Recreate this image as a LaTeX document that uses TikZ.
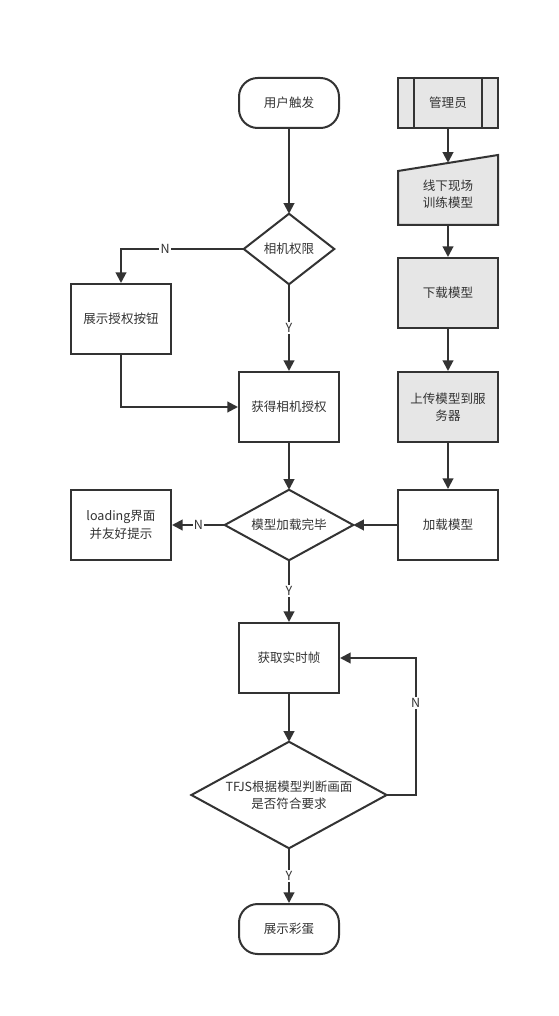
\documentclass[tikz,border=0pt]{standalone}
\usepackage{fontspec}
\setmainfont{Noto Sans CJK SC}
\usetikzlibrary{arrows.meta}
\definecolor{ln}{HTML}{333333}
\definecolor{gr}{HTML}{E6E6E6}
\tikzset{
  base/.style={inner sep=0pt, align=center, font=\fontsize{9.4}{13}\selectfont, text=ln},
  box/.style={base, draw=ln, line width=1.5pt, minimum width=75pt, minimum height=52.5pt},
  gbox/.style={box, fill=gr},
  term/.style={base, draw=ln, line width=1.5pt, minimum width=75pt, minimum height=37.5pt, rounded corners=14pt},
  hold/.style={base, minimum width=#1},
  arr/.style={draw=ln, line width=1.5pt, -{Triangle[length=8pt,width=8pt]}},
  lbl/.style={base, fill=white, inner sep=1pt},
  shp/.style={draw=ln, line width=1.5pt},
}
\begin{document}
\begin{tikzpicture}[x=0.75pt,y=-0.75pt]
\fill[white] (0,0) rectangle (559,1016);
\useasboundingbox (0,0) rectangle (559,1016);
% left column
\node[term] (start) at (289,103) {用户触发};
\node[hold=67.5pt, minimum height=52.5pt] (perm) at (289,249) {相机权限};
\draw[shp] (perm.north) -- (perm.east) -- (perm.south) -- (perm.west) -- cycle;
\node[box] (show) at (121,319) {展示授权按钮};
\node[box] (get) at (289,407) {获得相机授权};
\node[hold=96pt, minimum height=52.5pt] (loaded) at (289,525) {模型加载完毕};
\draw[shp] (loaded.north) -- (loaded.east) -- (loaded.south) -- (loaded.west) -- cycle;
\node[box] (loading) at (121,525) {loading界面\\并友好提示};
\node[box] (frame) at (289,658) {获取实时帧};
\node[hold=146pt, minimum height=79.5pt] (tfjs) at (289,795) {TFJS根据模型判断画面\\是否符合要求};
\draw[shp] (tfjs.north) -- (tfjs.east) -- (tfjs.south) -- (tfjs.west) -- cycle;
\node[term] (egg) at (289,929) {展示彩蛋};
% right column
\node[gbox, minimum height=37.5pt] (admin) at (448,103) {管理员};
\draw[ln, line width=1.2pt] ([xshift=12.75pt]admin.north west) -- ([xshift=12.75pt]admin.south west);
\draw[ln, line width=1.2pt] ([xshift=-12.75pt]admin.north east) -- ([xshift=-12.75pt]admin.south east);
\node[hold=75pt, minimum height=46.5pt] (train) at (448,194) {};
\draw[shp, fill=gr] (398,171) -- (498,155) -- (498,225) -- (398,225) -- cycle;
\node[base] at (448,194) {线下现场\\训练模型};
\node[gbox] (down) at (448,293) {下载模型};
\node[gbox] (up) at (448,407) {上传模型到服\\务器};
\node[box] (loadm) at (448,525) {加载模型};
% connectors
\draw[arr] (start) -- (perm);
\draw[arr] (perm.west) -| (show.north) node[lbl, pos=0.32] {N};
\draw[arr] (perm.south) -- (get.north) node[lbl, midway] {Y};
\draw[arr] (show.south) |- (get.west);
\draw[arr] (get) -- (loaded.north);
\draw[arr] (loaded.west) -- (loading.east) node[lbl, pos=0.5] {N};
\draw[arr] (loadm.west) -- (loaded.east);
\draw[arr] (loaded.south) -- (frame.north) node[lbl, midway] {Y};
\draw[arr] (frame) -- (tfjs.north);
\draw[arr] (tfjs.east) -- ++(29,0) |- (frame.east) node[lbl, pos=0.335] {N};
\draw[arr] (tfjs.south) -- (egg.north) node[lbl, midway] {Y};
\draw[arr] (admin) -- (train.north);
\draw[arr] (train.south) -- (down.north);
\draw[arr] (down) -- (up);
\draw[arr] (up) -- (loadm);
\end{tikzpicture}
\end{document}
